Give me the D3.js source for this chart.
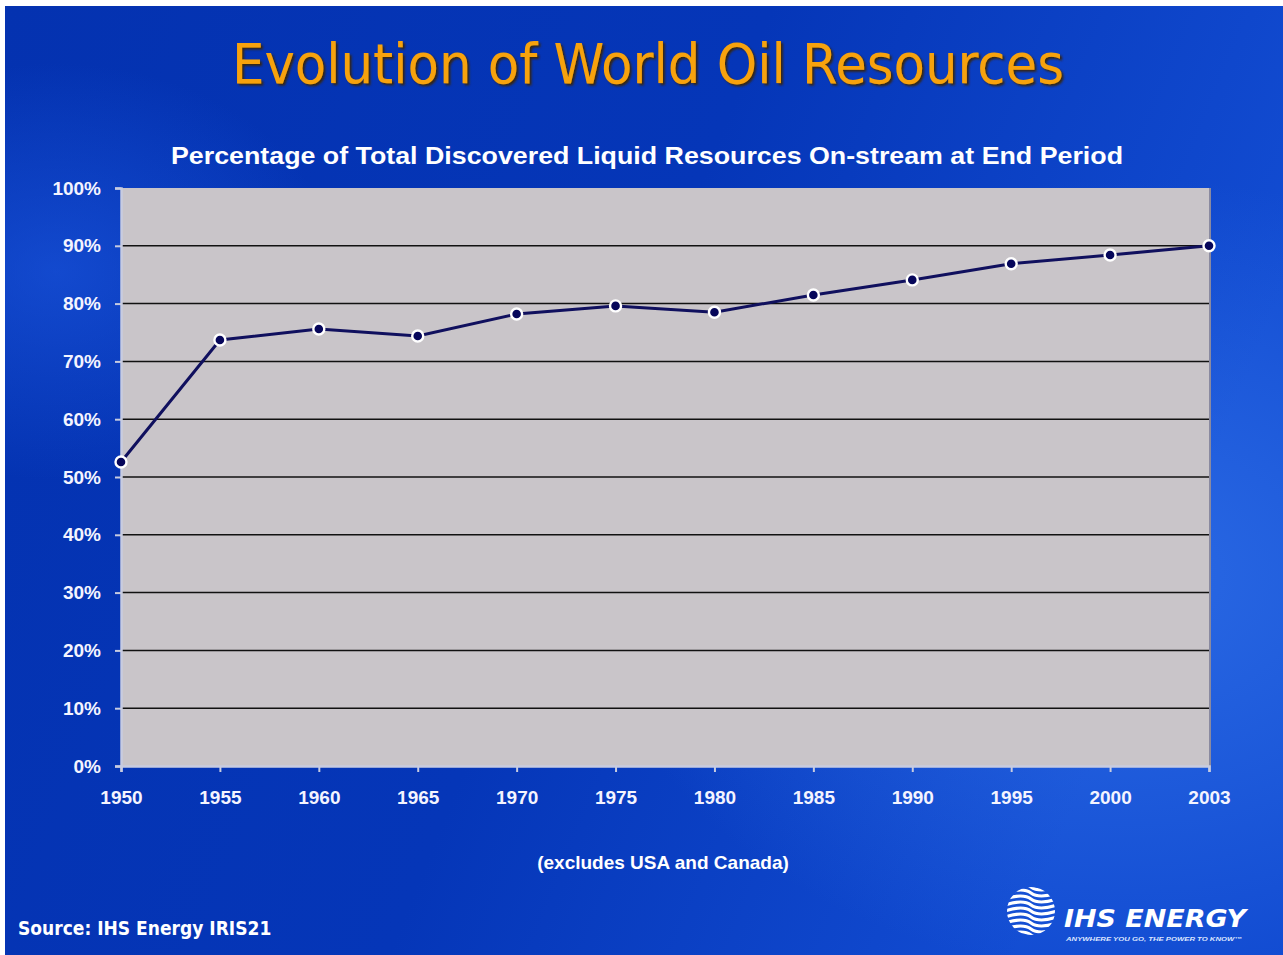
<!DOCTYPE html>
<html>
<head>
<meta charset="utf-8">
<script src="https://cdn.jsdelivr.net/npm/d3@7"></script>
<style>
  body { margin: 0; background: #fff; }
  svg { display: block; }
</style>
</head>
<body>
<div id="chart"></div>
<script>
// data
var years = ["1950", "1955", "1960", "1965", "1970", "1975", "1980", "1985", "1990", "1995", "2000", "2003"];
var onStream = [52.6, 73.7, 75.6, 74.4, 78.2, 79.6, 78.5, 81.5, 84.1, 86.9, 88.4, 90.0];
var yTicks = [0, 10, 20, 30, 40, 50, 60, 70, 80, 90, 100];

var W = 1283, H = 955;
var margin = {top: 188, right: 74, bottom: 189, left: 121};
var width = W - margin.left - margin.right,
    height = H - margin.top - margin.bottom;

var svg = d3.select("#chart").append("svg")
    .attr("width", W)
    .attr("height", H);

var defs = svg.append("defs");
var lg = defs.append("linearGradient").attr("id", "bg")
    .attr("x1", 0).attr("y1", 0).attr("x2", 1).attr("y2", 0.3);
lg.append("stop").attr("offset", "0%").attr("stop-color", "#0432b0");
lg.append("stop").attr("offset", "55%").attr("stop-color", "#0536b8");
lg.append("stop").attr("offset", "100%").attr("stop-color", "#124cd2");

var rg = defs.append("radialGradient").attr("id", "glow")
    .attr("cx", 0.88).attr("cy", 0.6).attr("r", 0.42);
rg.append("stop").attr("offset", "0%").attr("stop-color", "#3a7cf0").attr("stop-opacity", 0.6);
rg.append("stop").attr("offset", "100%").attr("stop-color", "#3a7cf0").attr("stop-opacity", 0);

var rg2 = defs.append("radialGradient").attr("id", "glow2")
    .attr("cx", 0.04).attr("cy", 0.28).attr("r", 0.22);
rg2.append("stop").attr("offset", "0%").attr("stop-color", "#1f5ce6").attr("stop-opacity", 0.55);
rg2.append("stop").attr("offset", "100%").attr("stop-color", "#1f5ce6").attr("stop-opacity", 0);

var sh = defs.append("filter").attr("id", "shadow")
    .attr("x", "-5%").attr("y", "-20%").attr("width", "110%").attr("height", "140%");
sh.append("feDropShadow").attr("dx", 2).attr("dy", 2).attr("stdDeviation", 0.8)
    .attr("flood-color", "#3a2000").attr("flood-opacity", 0.9);

// slide background (white edge at top / left like the scan)
svg.append("rect").attr("x", 5).attr("y", 6).attr("width", W - 5).attr("height", H - 6).attr("fill", "url(#bg)");
svg.append("rect").attr("x", 5).attr("y", 6).attr("width", W - 5).attr("height", H - 6).attr("fill", "url(#glow)");
svg.append("rect").attr("x", 5).attr("y", 6).attr("width", W - 5).attr("height", H - 6).attr("fill", "url(#glow2)");

// title
svg.append("text")
    .attr("x", 648).attr("y", 83)
    .attr("text-anchor", "middle")
    .attr("textLength", 832).attr("lengthAdjust", "spacingAndGlyphs")
    .style("font-family", "'DejaVu Sans', Verdana, sans-serif")
    .style("font-stretch", "condensed")
    .style("font-size", "56px")
    .style("fill", "#f7a20a")
    .attr("filter", "url(#shadow)")
    .text("Evolution of World Oil Resources");

svg.append("text")
    .attr("x", 647).attr("y", 164)
    .attr("text-anchor", "middle")
    .attr("textLength", 952).attr("lengthAdjust", "spacingAndGlyphs")
    .style("font-family", "'Liberation Sans', Arial, sans-serif")
    .style("font-weight", "bold")
    .style("font-size", "24px")
    .style("fill", "#ffffff")
    .text("Percentage of Total Discovered Liquid Resources On-stream at End Period");

var g = svg.append("g")
    .attr("transform", "translate(" + margin.left + "," + margin.top + ")");

var x = d3.scalePoint()
    .domain(years)
    .range([0, width]);

var y = d3.scaleLinear()
    .domain([0, 100])
    .range([height, 0]);

// plot area
g.append("rect")
    .attr("width", width).attr("height", height)
    .attr("fill", "#c9c5c9");
g.append("line")
    .attr("x1", width + 1).attr("x2", width + 1).attr("y1", 0).attr("y2", height)
    .attr("stroke", "#8a8aa0").attr("stroke-width", 2);

// gridlines
g.selectAll(".grid")
    .data(yTicks.filter(function (d) { return d > 0 && d < 100; }))
    .enter().append("line")
    .attr("class", "grid")
    .attr("x1", 0).attr("x2", width)
    .attr("y1", function (d) { return y(d); })
    .attr("y2", function (d) { return y(d); })
    .attr("stroke", "#111")
    .attr("stroke-width", 1.5);

// axes
var yAxis = g.append("g")
    .call(d3.axisLeft(y).tickValues(yTicks).tickSize(6).tickPadding(14)
        .tickFormat(function (d) { return d + "%"; }));
var xAxis = g.append("g")
    .attr("transform", "translate(0," + height + ")")
    .call(d3.axisBottom(x).tickSize(6).tickPadding(19));

[yAxis, xAxis].forEach(function (a) {
    a.select(".domain").attr("stroke", "#c8cce0").attr("stroke-width", 2.5);
    a.selectAll(".tick line").attr("stroke", "#c8cce0").attr("stroke-width", 2);
    a.selectAll("text")
        .style("font-family", "'Liberation Sans', Arial, sans-serif")
        .style("font-weight", "bold")
        .style("font-size", "19px")
        .attr("fill", "#f4f4ff");
});

// series
var pts = years.map(function (yr, i) { return {year: yr, v: onStream[i]}; });

g.append("path")
    .datum(pts)
    .attr("fill", "none")
    .attr("stroke", "#10105e")
    .attr("stroke-width", 3)
    .attr("d", d3.line()
        .x(function (d) { return x(d.year); })
        .y(function (d) { return y(d.v); }));

g.selectAll(".dot")
    .data(pts)
    .enter().append("circle")
    .attr("class", "dot")
    .attr("cx", function (d) { return x(d.year); })
    .attr("cy", function (d) { return y(d.v); })
    .attr("r", 5.5)
    .attr("fill", "#06065a")
    .attr("stroke", "#ffffff")
    .attr("stroke-width", 2.4);

// footnote
svg.append("text")
    .attr("x", 663).attr("y", 869)
    .attr("text-anchor", "middle")
    .style("font-family", "'Liberation Sans', Arial, sans-serif")
    .style("font-weight", "bold")
    .style("font-size", "19px")
    .style("fill", "#ffffff")
    .text("(excludes USA and Canada)");

svg.append("text")
    .attr("x", 18).attr("y", 935)
    .style("font-family", "'DejaVu Sans', Verdana, sans-serif")
    .style("font-stretch", "condensed")
    .style("font-weight", "bold")
    .style("font-size", "19px")
    .style("fill", "#ffffff")
    .text("Source: IHS Energy IRIS21");

// logo
var logo = svg.append("g").attr("transform", "translate(1031,911)");
logo.append("clipPath").attr("id", "globeClip")
    .append("circle").attr("r", 24);
var globe = logo.append("g").attr("clip-path", "url(#globeClip)");
d3.range(-24, 26, 6).forEach(function (k) {
    globe.append("path")
        .attr("d", "M-26," + k + " Q-8," + (k - 6) + " 0," + k + " T26," + k)
        .attr("fill", "none")
        .attr("stroke", "#ffffff")
        .attr("stroke-width", 3.2);
});
svg.append("text")
    .attr("x", 1064).attr("y", 927)
    .style("font-family", "'DejaVu Sans', Verdana, sans-serif")
    .style("font-weight", "bold")
    .style("font-style", "italic")
    .style("font-size", "24px")
    .attr("textLength", 182).attr("lengthAdjust", "spacingAndGlyphs")
    .style("fill", "#ffffff")
    .text("IHS ENERGY");
svg.append("text")
    .attr("x", 1066).attr("y", 941)
    .style("font-family", "'Liberation Sans', Arial, sans-serif")
    .style("font-weight", "bold")
    .style("font-style", "italic")
    .style("font-size", "6px")
    .attr("textLength", 176).attr("lengthAdjust", "spacingAndGlyphs")
    .style("fill", "#dde6ff")
    .text("ANYWHERE YOU GO, THE POWER TO KNOW\u2122");
</script>
</body>
</html>
